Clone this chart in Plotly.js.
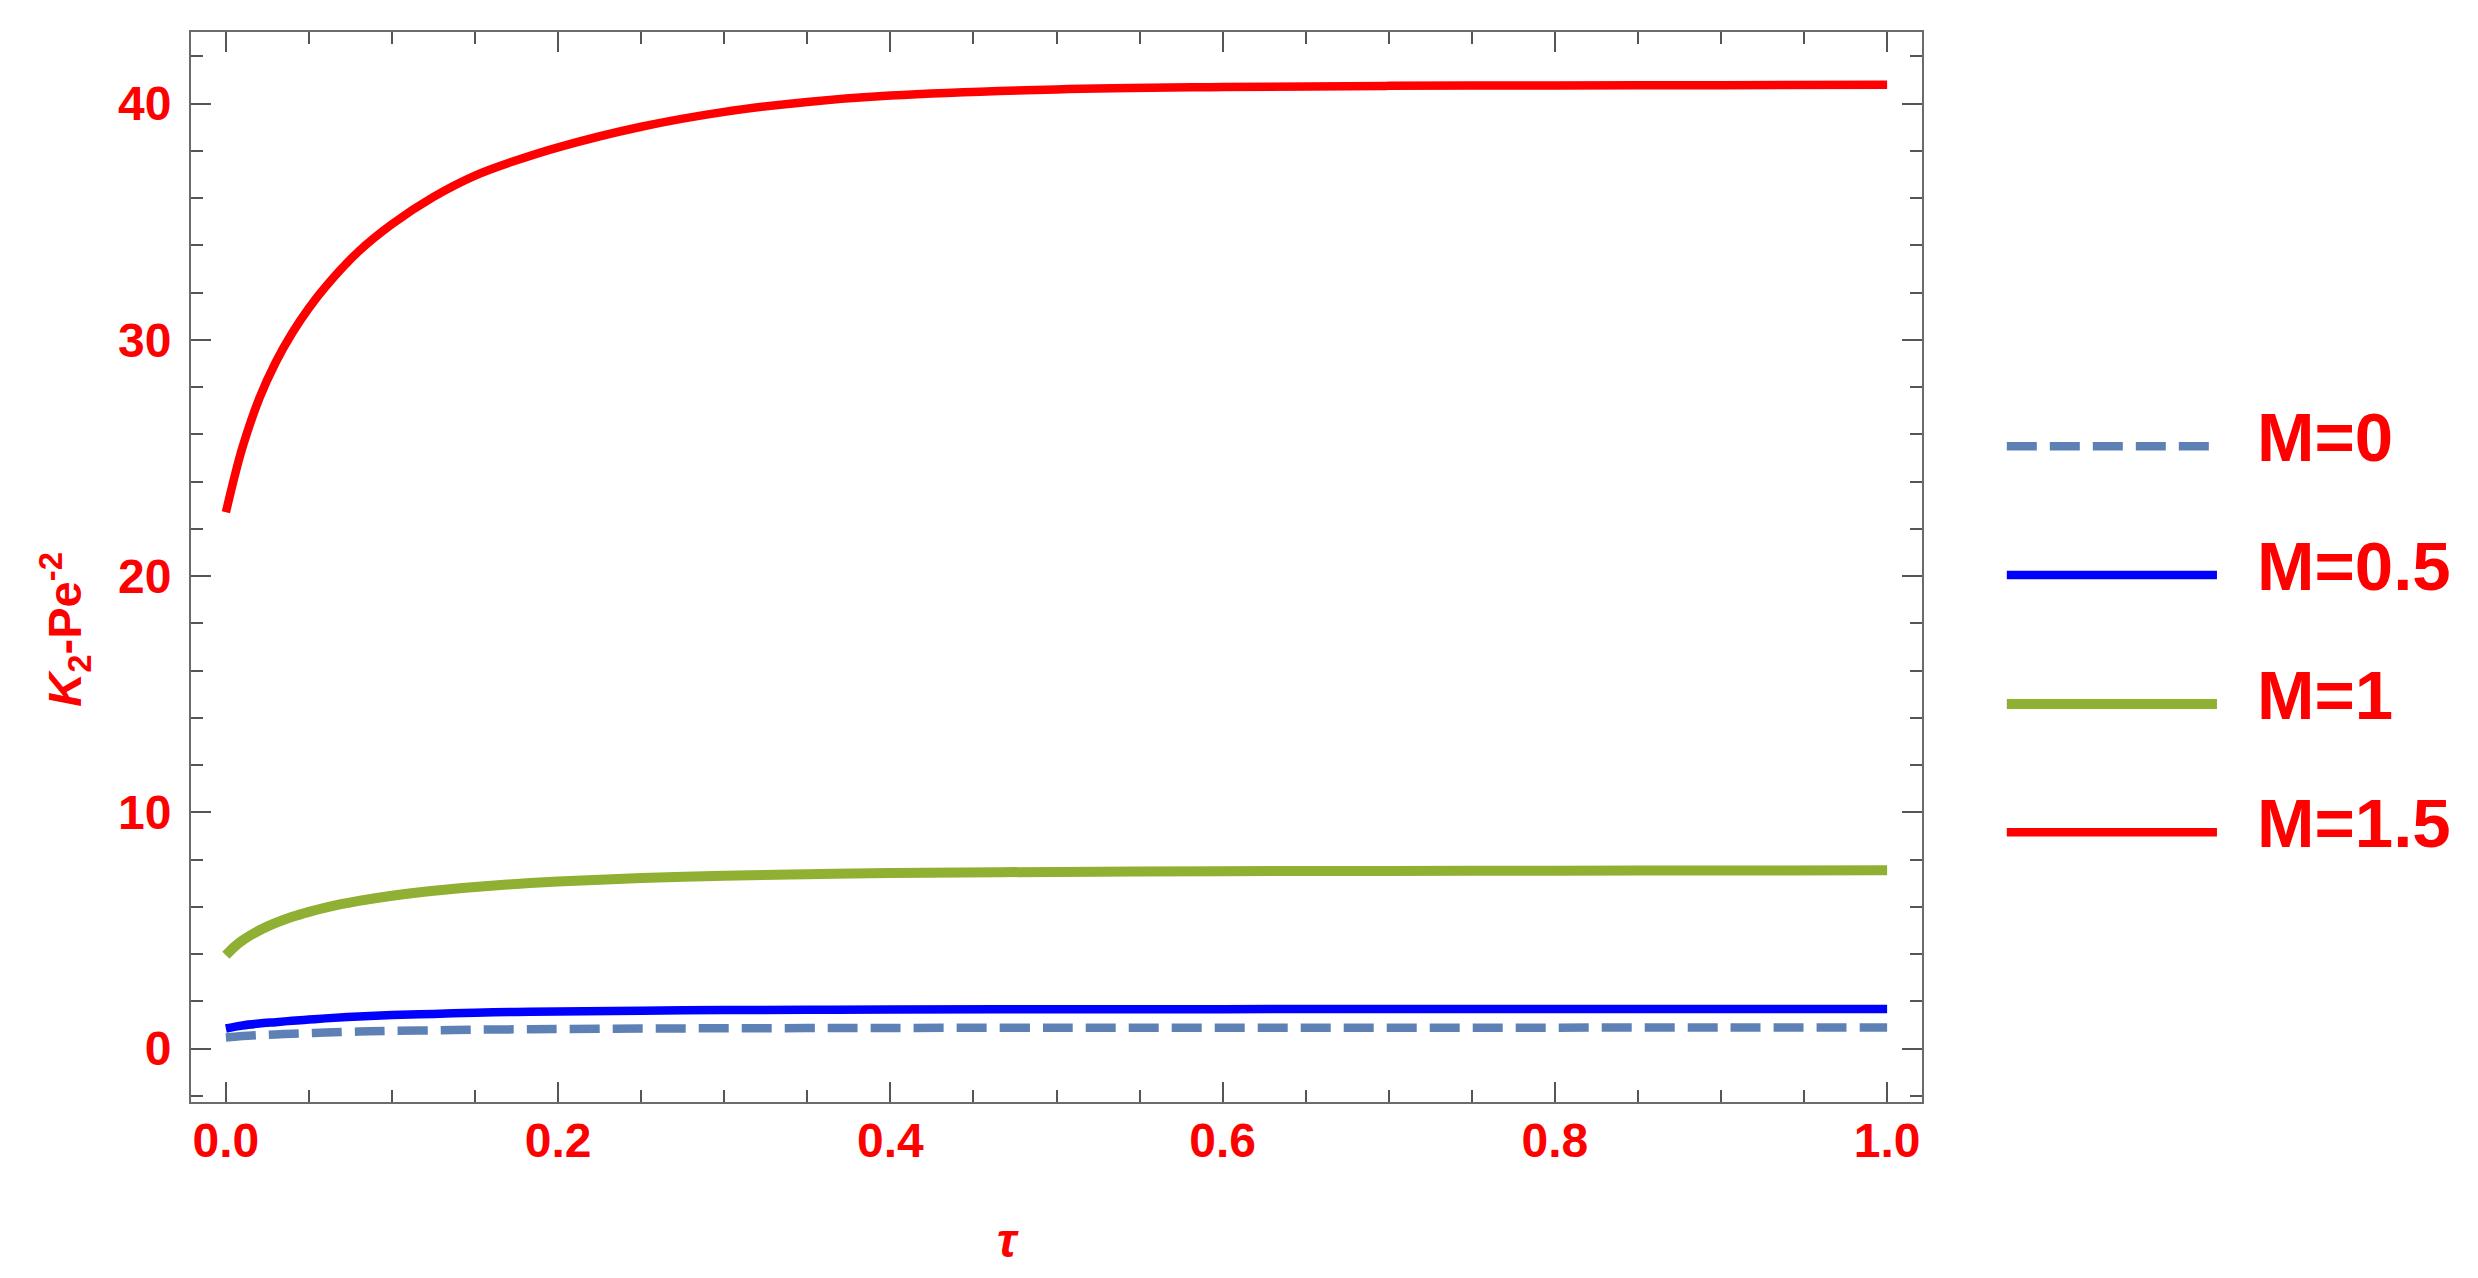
<!DOCTYPE html>
<html>
<head>
<meta charset="utf-8">
<script src="https://cdn.plot.ly/plotly-3.0.1.min.js"></script>
<style>html,body{margin:0;padding:0;background:#fff;}#chart{width:2478px;height:1278px;}</style>
</head>
<body>
<div id="chart"></div>
<script>
// ---- data ----
const tau = [0, 0.005, 0.01, 0.02, 0.03, 0.04, 0.05, 0.06, 0.08, 0.1, 0.125, 0.15, 0.175, 0.2, 0.25, 0.3, 0.35, 0.4, 0.5, 0.6, 0.7, 0.8, 0.9, 1.0];
const M0   = [0.47, 0.50, 0.53, 0.57, 0.60, 0.63, 0.655, 0.68, 0.72, 0.75, 0.775, 0.80, 0.815, 0.83, 0.848, 0.86, 0.869, 0.875, 0.882, 0.885, 0.887, 0.888, 0.889, 0.89];
const M05  = [0.85, 0.92, 0.98, 1.06, 1.12, 1.18, 1.23, 1.28, 1.36, 1.42, 1.47, 1.52, 1.55, 1.57, 1.605, 1.63, 1.645, 1.655, 1.665, 1.671, 1.675, 1.678, 1.679, 1.68];
const M1   = [3.95, 4.3, 4.58, 5.0, 5.32, 5.58, 5.79, 5.97, 6.25, 6.47, 6.68, 6.84, 6.97, 7.07, 7.22, 7.32, 7.38, 7.43, 7.48, 7.51, 7.52, 7.53, 7.54, 7.55];
const M15  = [22.7, 24.15, 25.45, 27.5, 29.05, 30.3, 31.35, 32.25, 33.75, 34.9, 36.05, 36.95, 37.6, 38.15, 39.02, 39.65, 40.07, 40.34, 40.6, 40.7, 40.75, 40.77, 40.78, 40.8];
const seriesNames = ["M=0", "M=0.5", "M=1", "M=1.5"];
const xTickVals = [0, 0.2, 0.4, 0.6, 0.8, 1.0];
const xTickText = ["0.0", "0.2", "0.4", "0.6", "0.8", "1.0"];
const yTickVals = [0, 10, 20, 30, 40];
const xTitle = "<i>τ</i>";
const yTitle = "<i>K</i><sub>2</sub>-Pe<sup>-2</sup>";

// ---- styles ----
const colors = ["#5E81B5", "#0000FF", "#8FB032", "#FF0000"];
const widths = [8.5, 8.5, 10, 8.5];
const dashes = ["30px,13px", "solid", "solid", "solid"];
const seriesY = [M0, M05, M1, M15];
const FONT = "Liberation Sans, Arial, Helvetica, sans-serif";

const traces = seriesY.map((y, i) => ({
  x: tau, y: y, type: "scatter", mode: "lines", name: seriesNames[i],
  line: {color: colors[i], width: widths[i], dash: dashes[i], shape: "spline", smoothing: 1},
  showlegend: false, hoverinfo: "skip"
}));

// custom legend: long keys like the reference
const legRowY = [0.6128, 0.4925, 0.3719, 0.2522];
const shapes = [];
const annotations = [];
seriesNames.forEach((nm, i) => {
  shapes.push({type: "line", xref: "paper", yref: "paper", x0: 1.049, x1: 1.1704, y0: legRowY[i], y1: legRowY[i],
    line: {color: colors[i], width: widths[i], dash: dashes[i]}});
  annotations.push({xref: "paper", yref: "paper", x: 1.1924, y: legRowY[i] + 0.008, xanchor: "left", yanchor: "middle",
    text: nm, showarrow: false, font: {family: FONT, size: 69, color: "#FF0000", weight: "bold"}});
});
// axis titles, placed where the reference has them
annotations.push({xref: "paper", yref: "paper", x: 0.472, y: -0.1293, xanchor: "center", yanchor: "middle",
  text: xTitle, showarrow: false, font: {family: FONT, size: 48, color: "#FF0000", weight: "bold"}});
annotations.push({xref: "paper", yref: "paper", x: -0.073, y: 0.442, xanchor: "center", yanchor: "middle", textangle: -90,
  text: yTitle, showarrow: false, font: {family: FONT, size: 47, color: "#FF0000", weight: "bold"}});

const axisCommon = {
  showline: true, linecolor: "#6b6b6b", linewidth: 2, mirror: "ticks",
  ticks: "inside", ticklen: 20, tickwidth: 2, tickcolor: "#555",
  showgrid: false, zeroline: false,
  tickfont: {family: FONT, size: 48, color: "#FF0000", weight: "bold"}
};

const layout = {
  width: 2478, height: 1278,
  margin: {l: 191, r: 556, t: 32, b: 176.3, pad: 0},
  paper_bgcolor: "#fff", plot_bgcolor: "#fff",
  showlegend: false,
  xaxis: Object.assign({}, axisCommon, {
    range: [-0.021, 1.021], tickvals: xTickVals, ticktext: xTickText, ticklabelstandoff: -5,
    minor: {dtick: 0.05, tick0: 0, ticks: "inside", ticklen: 12, tickwidth: 2, tickcolor: "#555"}
  }),
  yaxis: Object.assign({}, axisCommon, {
    range: [-2.26, 43.03], tickvals: yTickVals, ticklabelstandoff: 8,
    minor: {dtick: 2, tick0: 0, ticks: "inside", ticklen: 12, tickwidth: 2, tickcolor: "#555"}
  }),
  shapes: shapes,
  annotations: annotations
};

Plotly.newPlot("chart", traces, layout, {staticPlot: true, displayModeBar: false});
</script>
</body>
</html>
